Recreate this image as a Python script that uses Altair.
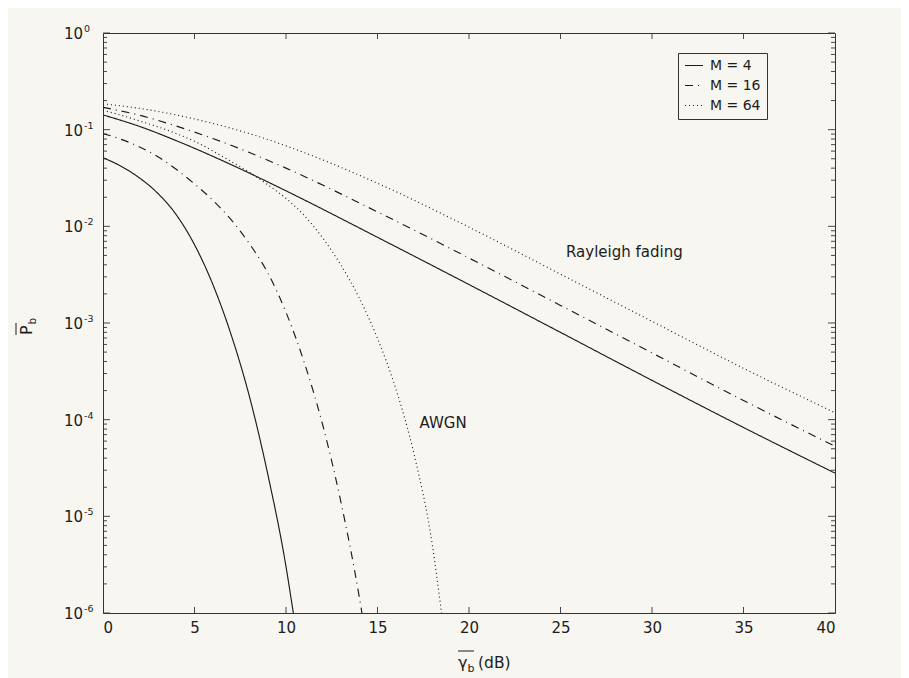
import altair as alt
import pandas as pd

# ---------------- data ----------------
series_names = ["M = 4", "M = 16", "M = 64"]

# Rayleigh fading curves (gamma_b in dB -> average Pb)
rayleigh_db = [0, 2, 4, 6, 8, 10, 15, 20, 25, 30, 35, 40]
rayleigh_m4 = [0.142, 0.108, 0.0770, 0.0530, 0.0355, 0.0233, 0.0077, 0.00250, 0.00080, 0.000255, 0.000083, 0.000028]
rayleigh_m16 = [0.170, 0.141, 0.109, 0.081, 0.058, 0.040, 0.0141, 0.0047, 0.00152, 0.00049, 0.000158, 0.000053]
rayleigh_m64 = [0.185, 0.166, 0.142, 0.116, 0.091, 0.068, 0.0279, 0.0098, 0.0032, 0.00104, 0.00034, 0.000118]

# AWGN curves
awgn_m4_db = [0, 1, 2, 3, 4, 5, 6, 7, 8, 9, 10, 10.4]
awgn_m4 = [0.0513, 0.0417, 0.0316, 0.0219, 0.0132, 0.00646, 0.00251, 0.000759, 0.000174, 2.75e-5, 3.02e-6, 1.0e-6]

awgn_m16_db = [0, 1, 2, 3, 4, 5, 6, 7, 8, 9, 10, 11, 12, 13, 14, 14.15]
awgn_m16 = [0.0912, 0.0794, 0.0661, 0.0525, 0.0389, 0.0275, 0.0186, 0.0117, 0.00661, 0.00331,
            0.00129, 0.000389, 8.91e-5, 1.41e-5, 1.48e-6, 1.0e-6]

awgn_m64_db = [0, 1, 2, 3, 4, 5, 6, 7, 8, 9, 10, 11, 12, 13, 14, 15, 16, 17, 18, 18.5]
awgn_m64 = [0.158, 0.141, 0.123, 0.107, 0.0912, 0.0759, 0.0603, 0.0468, 0.0363, 0.0269, 0.0195,
            0.0129, 0.00759, 0.00398, 0.00182, 0.000692, 0.000209, 4.37e-5, 5.0e-6, 1.0e-6]

x_ticks = [0, 5, 10, 15, 20, 25, 30, 35, 40]
y_decades = [1e0, 1e-1, 1e-2, 1e-3, 1e-4, 1e-5, 1e-6]
y_exponents = ["0", "-1", "-2", "-3", "-4", "-5", "-6"]

ann_text = ["Rayleigh fading", "AWGN"]
ann_x = [25.3, 17.3]
ann_y = [5.4e-3, 9.2e-5]

# ---------------- build tables ----------------
rows = []
for name, xs, ys in [("M = 4", rayleigh_db, rayleigh_m4), ("M = 16", rayleigh_db, rayleigh_m16),
                     ("M = 64", rayleigh_db, rayleigh_m64)]:
    for a, b in zip(xs, ys):
        rows.append({"db": a, "pb": b, "series": name, "curve": "Rayleigh"})
for name, xs, ys in [("M = 4", awgn_m4_db, awgn_m4), ("M = 16", awgn_m16_db, awgn_m16),
                     ("M = 64", awgn_m64_db, awgn_m64)]:
    for a, b in zip(xs, ys):
        rows.append({"db": a, "pb": b, "series": name, "curve": "AWGN"})
df = pd.DataFrame(rows)

minor = [k * d for d in y_decades[1:] for k in range(2, 10)]
df_major = pd.DataFrame({"v": y_decades})
df_minor = pd.DataFrame({"v": minor})
df_xt = pd.DataFrame({"v": x_ticks[1:-1]})
df_ylab = pd.DataFrame({"v": y_decades, "base": ["10"] * len(y_decades), "exp": y_exponents})
df_ann = pd.DataFrame({"t": ann_text, "x": ann_x, "y": ann_y})

FONT = "DejaVu Sans"
BG = "#f8f6f0"
INK = "#1c1c1c"
W, H = 732, 580

xscale = alt.Scale(domain=[0, 40], nice=False, zero=False)
yscale = alt.Scale(type="log", domain=[1e-6, 1], nice=False)

lines = alt.Chart(df).mark_line(color=INK, strokeWidth=1.15, interpolate="monotone", clip=True).encode(
    x=alt.X("db:Q", scale=xscale,
            axis=alt.Axis(values=x_ticks, format="d", ticks=False, domain=False, grid=False,
                          labelFont=FONT, labelFontSize=15, labelColor=INK, labelPadding=7, title=None)),
    y=alt.Y("pb:Q", scale=yscale, axis=None),
    strokeDash=alt.StrokeDash(
        "series:N",
        scale=alt.Scale(domain=series_names, range=[[1, 0], [8, 5, 1, 5], [1, 3]]),
        legend=alt.Legend(title=None, orient="none", legendX=575, legendY=20,
                          strokeColor="#333", fillColor=BG, padding=6, cornerRadius=0,
                          symbolType="stroke", symbolSize=324, symbolStrokeWidth=1.2,
                          symbolStrokeColor=INK, labelFont=FONT, labelFontSize=14,
                          labelColor=INK, labelOffset=6, clipHeight=13, rowPadding=5),
    ),
    detail="curve:N",
    order="db:Q",
)

tick_style = dict(color="#333", strokeWidth=0.9)
y_major_l = alt.Chart(df_major).mark_rule(**tick_style).encode(
    y=alt.Y("v:Q", scale=yscale), x=alt.value(0), x2=alt.value(7))
y_major_r = alt.Chart(df_major).mark_rule(**tick_style).encode(
    y=alt.Y("v:Q", scale=yscale), x=alt.value(W - 7), x2=alt.value(W))
y_minor_l = alt.Chart(df_minor).mark_rule(**tick_style).encode(
    y=alt.Y("v:Q", scale=yscale), x=alt.value(0), x2=alt.value(4))
y_minor_r = alt.Chart(df_minor).mark_rule(**tick_style).encode(
    y=alt.Y("v:Q", scale=yscale), x=alt.value(W - 4), x2=alt.value(W))
x_bot = alt.Chart(df_xt).mark_rule(**tick_style).encode(
    x=alt.X("v:Q", scale=xscale), y=alt.value(H - 6), y2=alt.value(H))
x_top = alt.Chart(df_xt).mark_rule(**tick_style).encode(
    x=alt.X("v:Q", scale=xscale), y=alt.value(0), y2=alt.value(6))

ylab_base = alt.Chart(df_ylab).mark_text(align="right", baseline="middle", font=FONT,
                                         fontSize=15, color=INK, dy=1).encode(
    y=alt.Y("v:Q", scale=yscale), x=alt.value(-20), text="base:N")
ylab_exp = alt.Chart(df_ylab).mark_text(align="left", baseline="alphabetic", font=FONT,
                                        fontSize=9.5, color=INK, dy=-1).encode(
    y=alt.Y("v:Q", scale=yscale), x=alt.value(-19), text="exp:N")

ann = alt.Chart(df_ann).mark_text(align="left", baseline="middle", font=FONT, fontSize=15,
                                  color=INK).encode(
    x=alt.X("x:Q", scale=xscale), y=alt.Y("y:Q", scale=yscale), text="t:N")

one = pd.DataFrame({"k": [0]})
# x-axis title: overline(gamma_b) (dB)
xt_g = alt.Chart(one).mark_text(align="left", baseline="alphabetic", font=FONT, fontSize=16, color=INK).encode(
    x=alt.value(355), y=alt.value(635), text=alt.value("γ"))
xt_b = alt.Chart(one).mark_text(align="left", baseline="alphabetic", font=FONT, fontSize=11, color=INK).encode(
    x=alt.value(364.5), y=alt.value(639), text=alt.value("b"))
xt_db = alt.Chart(one).mark_text(align="left", baseline="alphabetic", font=FONT, fontSize=15.5, color=INK).encode(
    x=alt.value(375), y=alt.value(635), text=alt.value("(dB)"))
xt_bar = alt.Chart(one).mark_rule(color=INK, strokeWidth=1).encode(
    x=alt.value(355), x2=alt.value(371), y=alt.value(618))
# y-axis title: overline(P_b)
yt_p = alt.Chart(one).mark_text(align="left", baseline="alphabetic", font=FONT, fontSize=16, color=INK,
                                angle=270).encode(
    x=alt.value(-71), y=alt.value(302), text=alt.value("P"))
yt_b = alt.Chart(one).mark_text(align="left", baseline="alphabetic", font=FONT, fontSize=10.5, color=INK,
                                angle=270).encode(
    x=alt.value(-67), y=alt.value(291.5), text=alt.value("b"))
yt_bar = alt.Chart(one).mark_rule(color=INK, strokeWidth=1).encode(
    x=alt.value(-87), y=alt.value(290), y2=alt.value(302))

chart = alt.layer(
    lines, y_major_l, y_major_r, y_minor_l, y_minor_r, x_bot, x_top,
    ylab_base, ylab_exp, ann, xt_g, xt_b, xt_db, xt_bar, yt_p, yt_b, yt_bar,
).properties(
    width=W, height=H,
    autosize=alt.AutoSizeParams(type="none"),
    padding={"left": 95, "top": 25, "right": 66, "bottom": 65},
    background=BG,
).configure_view(stroke="#333", strokeWidth=1)

chart.save("out.html", embed_options={"renderer": "svg", "actions": False})
